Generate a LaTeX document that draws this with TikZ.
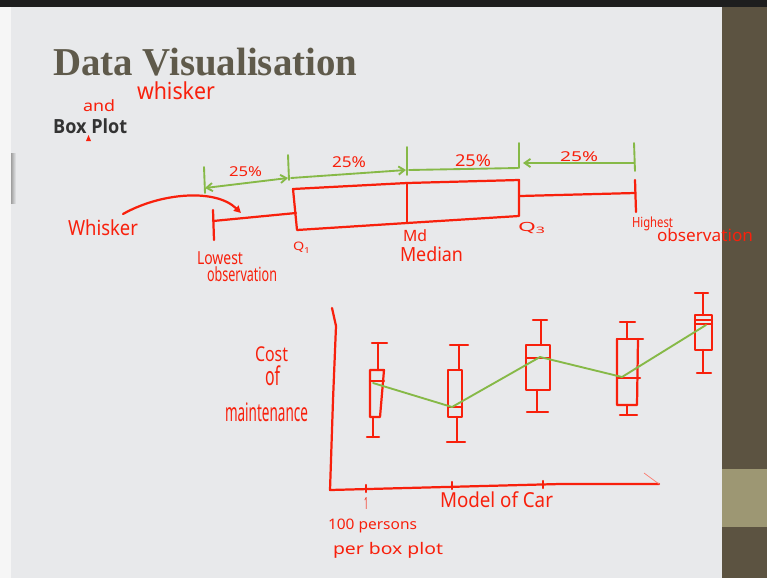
\documentclass[tikz,border=0pt]{standalone}
\usepackage{fontspec}
\usepackage{graphicx}
\usetikzlibrary{arrows.meta,calc}
\newfontfamily\titlefont{Liberation Serif}
\newfontfamily\boxfont{Open Sans}
\newfontfamily\handfont{Noto Sans}
\definecolor{slidebg}{HTML}{E8E9EB}
\definecolor{stripbg}{HTML}{F6F6F6}
\definecolor{panelc}{HTML}{5C5341}
\definecolor{bandc}{HTML}{9D9773}
\definecolor{topbar}{HTML}{1E1E1E}
\definecolor{hred}{HTML}{F8200C}
\definecolor{hgreen}{HTML}{86B947}
\definecolor{titlec}{HTML}{5F5A4B}
\definecolor{boxc}{HTML}{333333}
\newcommand\hw[3]{\resizebox*{\dimexpr0.03cm*#1\relax}{\dimexpr0.03cm*#2\relax}{#3}}
\tikzset{
  redline/.style={draw=hred, line width=1.9pt, line cap=round, line join=round},
  greenline/.style={draw=hgreen, line width=1.6pt, line cap=round, line join=round},
  hw/.style={inner sep=0pt, outer sep=0pt, text=hred, font=\handfont, anchor=north west},
  barb/.tip={Straight Barb[length=5pt,width=7pt]},
}
\begin{document}
\begin{tikzpicture}[x=0.03cm,y=-0.03cm]
\useasboundingbox (0,0) rectangle (767,578);
% background
\fill[slidebg] (0,0) rectangle (767,578);
\fill[stripbg] (0,0) rectangle (11,578);
\shade[left color=gray!75, right color=slidebg] (11,153) rectangle (16,203);
\fill[panelc] (722,0) rectangle (767,578);
\fill[bandc] (722,469) rectangle (767,527);
\fill[topbar] (0,0) rectangle (767,7);

% titles
\node[inner sep=0pt, anchor=north west, text=titlec, font=\titlefont\bfseries] (title) at (53,48) {\hw{304}{28}{Data Visualisation}};
\node[inner sep=0pt, anchor=north west, text=boxc, font=\boxfont\bfseries] (boxplot) at (53,118) {\hw{74}{15}{Box Plot}};
\node[hw] (andw) at (83,100) {\hw{32}{12}{and}};
\node[hw] (whiskw) at (137,82) {\hw{78}{18}{whisker}};
\fill[hred] (86,141) -- (88.5,135) -- (91,141) -- cycle;

% ---------- top box plot ----------
% green dimension ticks
\coordinate (g1) at (205,188);
\coordinate (g2) at (288,178);
\coordinate (g2b) at (291,178);
\coordinate (g3) at (406,170);
\coordinate (g3b) at (409,170);
\coordinate (g4) at (518,168);
\coordinate (g4b) at (523,163);
\coordinate (g5) at (634,163);
\draw[greenline] (204,167) -- (205,193);
\draw[greenline] (288,155) -- (289,180);
\draw[greenline] (407,147) -- (407,175);
\draw[greenline] (519,143) -- (519,168);
\draw[greenline] (634,143) -- (635,171);
\draw[greenline, barb-barb] (g1) -- (g2);
\draw[greenline, -barb] (g2b) -- (g3);
\draw[greenline] (g3b) -- (g4);
\draw[greenline, barb-] (g4b) -- (g5);
\node[hw] (p1) at (229,167) {\hw{33}{10}{25\%}};
\node[hw] (p2) at (332,157) {\hw{34}{11}{25\%}};
\node[hw] (p3) at (455,155) {\hw{36}{12}{25\%}};
\node[hw] (p4) at (560,152) {\hw{38}{10}{25\%}};

% red box and whiskers
\draw[redline] (293,189) -- (407,183) -- (519,180) -- (519,216) -- (407,223) -- (297,230) -- cycle;
\draw[redline] (407,183) -- (407,223);
\draw[redline] (213,221) -- (296,213);
\draw[redline] (213,210) -- (214,240);
\draw[redline] (520,196) -- (635,193);
\draw[redline] (635,180) -- (636,212);

% labels
\node[hw] (whisker) at (68,220) {\hw{70}{16}{Whisker}};
\coordinate (wtip) at (241,213);
\draw[redline, -{Triangle[length=6pt,width=6pt]}] ($(whisker.north east)+(-15,-6)$) .. controls (160,193) and (215,188) .. (wtip);
\node[hw] (lowest) at (197,252) {\hw{46}{13}{Lowest}};
\node[hw] (lowobs) at (207,267) {\hw{70}{15}{observation}};
\node[hw] (q1) at (293,242) {\hw{17}{11}{Q\raisebox{-0.4ex}{\scriptsize 1}}};
\node[hw] (md) at (403,230) {\hw{24}{12}{Md}};
\node[hw] (median) at (400,247) {\hw{63}{15}{Median}};
\node[hw] (q3) at (518,222) {\hw{27}{12}{Q\raisebox{-0.4ex}{\scriptsize 3}}};
\node[hw] (highest) at (632,217) {\hw{41}{14}{Highest}};
\node[hw] (highobs) at (657,229) {\hw{96}{13}{observation}};

% ---------- chart ----------
\coordinate (ytop) at (332,308);
\coordinate (origin) at (330,490);
\coordinate (xend) at (659,484);
\draw[redline] (ytop) -- (336,326) -- (333,400) -- (origin) -- (560,484) -- (xend);
\draw[hred!60, line width=0.6pt] (xend) -- (644,473);
\draw[redline] (366,485) -- (366,492);
\draw[redline] (452,482) -- (452,489);
\draw[redline] (543,481) -- (543,488);

% box 1
\draw[redline] (372,343) -- (387,343);
\draw[redline] (378,343) -- (378,370);
\draw[redline] (370,370) -- (384,370) -- (380,417) -- (370,417) -- cycle;
\draw[redline] (370,381) -- (384,381);
\draw[redline] (373,417) -- (373,437);
\draw[redline] (367,437) -- (379,437);
% box 2
\draw[redline] (450,345) -- (468,345);
\draw[redline] (459,345) -- (459,370);
\draw[redline] (448,370) rectangle (462,417);
\draw[redline] (448,407) -- (462,407);
\draw[redline] (457,417) -- (457,442);
\draw[redline] (447,442) -- (465,442);
% box 3
\draw[redline] (533,320) -- (547,320);
\draw[redline] (541,320) -- (541,345);
\draw[redline] (526,345) rectangle (550,390);
\draw[redline] (526,358) -- (550,358);
\draw[redline] (537,390) -- (537,412);
\draw[redline] (527,412) -- (548,412);
% box 4
\draw[redline] (620,322) -- (635,322);
\draw[redline] (627,322) -- (627,339);
\draw[redline] (617,339) -- (643,339);
\draw[redline] (617,339) -- (617,405) -- (637,405) -- (638,339);
\draw[redline] (617,378) -- (640,378);
\draw[redline] (627,405) -- (627,415);
\draw[redline] (620,415) -- (637,415);
% box 5
\draw[redline] (695,293) -- (708,293);
\draw[redline] (703,293) -- (703,315);
\draw[redline] (695,315) rectangle (712,350);
\draw[redline] (695,320) -- (712,320);
\draw[redline] (695,324) -- (712,324);
\draw[redline] (703,350) -- (703,373);
\draw[redline] (697,373) -- (711,373);

% medians joined
\coordinate (m1) at (373,383);
\coordinate (m2) at (452,407);
\coordinate (m3) at (540,357);
\coordinate (m4) at (622,377);
\coordinate (m5) at (706,325);
\draw[greenline] (m1) -- (m2) -- (m3) -- (m4) -- (m5);

% chart labels
\node[hw] (cost) at (255,347) {\hw{33}{15}{Cost}};
\node[hw] (of) at (265,366) {\hw{15}{20}{of}};
\node[hw] (maint) at (225,403) {\hw{83}{19}{maintenance}};
\node[hw] (one) at (364,497) {\hw{4}{12}{1}};
\node[hw] (model) at (440,492) {\hw{113}{16}{Model of Car}};
\node[hw] (persons) at (328,519) {\hw{89}{14}{100 persons}};
\node[hw] (perbox) at (333,542) {\hw{110}{16}{per box plot}};
\end{tikzpicture}
\end{document}
